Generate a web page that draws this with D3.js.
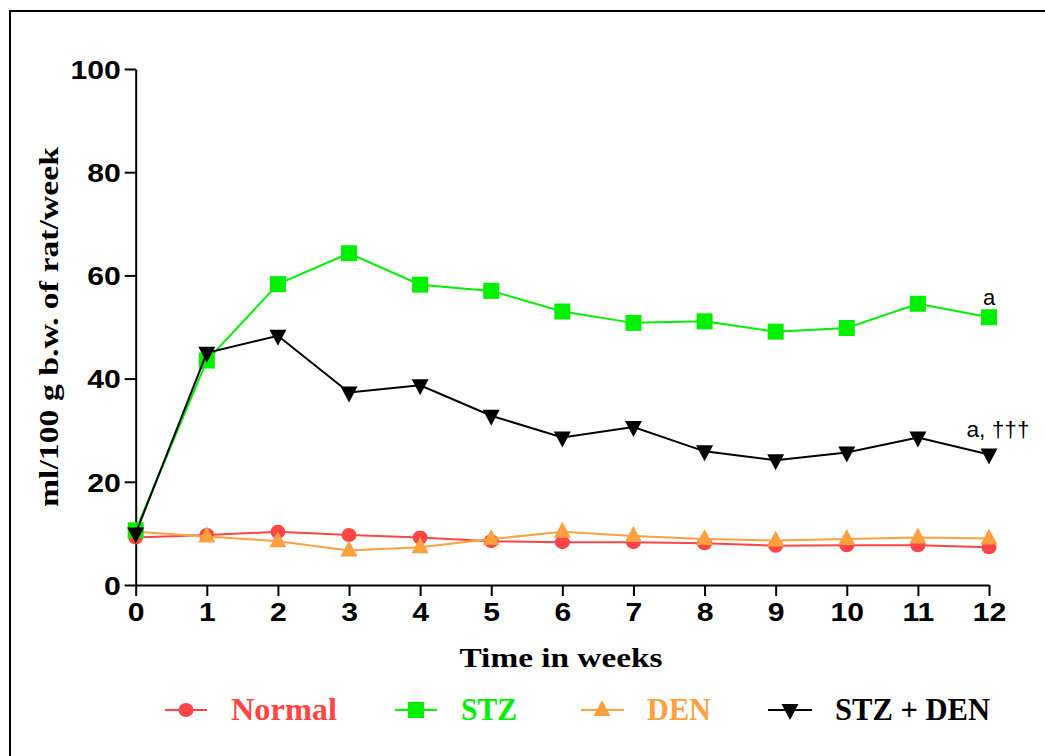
<!DOCTYPE html>
<html><head><meta charset="utf-8">
<script src="https://cdn.jsdelivr.net/npm/d3@7"></script>
<style>body{margin:0;background:#fff}svg{display:block}</style>
</head><body>
<script>
const weeks = [0,1,2,3,4,5,6,7,8,9,10,11,12];
const normal = [9.2,9.7,10.3,9.7,9.2,8.5,8.3,8.3,8.1,7.6,7.7,7.7,7.3];
const stz = [10.6,43.5,58.3,64.3,58.2,57.0,53.0,50.8,51.1,49.1,49.8,54.5,51.9];
const den = [10.3,9.4,8.5,6.7,7.3,8.9,10.3,9.5,8.9,8.6,8.9,9.2,9.0];
const stzDen = [10.0,45.0,48.3,37.3,38.7,32.8,28.6,30.6,25.9,24.2,25.7,28.6,25.3];
const yTicks = [0,20,40,60,80,100];
const seriesNames = ["Normal","STZ","DEN","STZ + DEN"];
const colors = ["#ff4545","#00f000","#ffa040","#000000"];
const shapes = ["circle","square","triUp","triDown"];

const W=1045,H=756;
const svg=d3.select("body").append("svg").attr("width",W).attr("height",H);
svg.append("rect").attr("x",10).attr("y",11).attr("width",W).attr("height",H).attr("fill","none").attr("stroke","#000").attr("stroke-width",2);

const x=d3.scaleLinear().domain([0,12]).range([135.7,989]);
const y=d3.scaleLinear().domain([0,100]).range([585,69]);

// axes
const xa=svg.append("g").attr("transform","translate(0,585)").call(d3.axisBottom(x).tickValues(weeks).tickSize(11).tickSizeOuter(0).tickFormat(d3.format("d")));
const ya=svg.append("g").attr("transform","translate(135.7,0)").call(d3.axisLeft(y).tickValues(yTicks).tickSize(11).tickSizeOuter(0));
[xa,ya].forEach(a=>{a.select(".domain").attr("stroke","#000").attr("stroke-width",2);a.selectAll(".tick line").attr("stroke","#000").attr("stroke-width",2);
 a.selectAll("text").attr("font-family","Liberation Sans, Arial, sans-serif").attr("font-weight","bold").attr("font-size",26).attr("fill","#000").attr("transform","scale(1.16,1)");});
xa.selectAll("text").attr("y",18).attr("dy","0.71em");
ya.selectAll("text").attr("x",-15/1.16).attr("dy","0.36em");

// titles
svg.append("text").attr("x",561).attr("y",667).attr("text-anchor","middle").attr("font-family","Liberation Serif, Times New Roman, serif").attr("font-weight","bold").attr("font-size",27).attr("textLength",203).attr("lengthAdjust","spacingAndGlyphs").text("Time in weeks");
svg.append("text").attr("transform","translate(58,327) rotate(-90)").attr("text-anchor","middle").attr("font-family","Liberation Serif, Times New Roman, serif").attr("font-weight","bold").attr("font-size",27).attr("textLength",360).attr("lengthAdjust","spacingAndGlyphs").text("ml/100 g b.w. of rat/week");

function marker(g,shape,cx,cy,color){
  if(shape==="circle") g.append("ellipse").attr("cx",cx).attr("cy",cy).attr("rx",7.5).attr("ry",7).attr("fill",color);
  else if(shape==="square") g.append("rect").attr("x",cx-8).attr("y",cy-8).attr("width",16).attr("height",16).attr("fill",color);
  else if(shape==="triUp") g.append("path").attr("d",`M${cx},${cy-10}L${cx+8.5},${cy+6}L${cx-8.5},${cy+6}Z`).attr("fill",color);
  else g.append("path").attr("d",`M${cx},${cy+10}L${cx+8.5},${cy-6}L${cx-8.5},${cy-6}Z`).attr("fill",color);
}

const data=[normal,stz,den,stzDen];
const order=[0,2,1,3];
const line=d3.line().x((d,i)=>x(weeks[i])).y(d=>y(d));
order.forEach(k=>{
  const g=svg.append("g");
  g.append("path").datum(data[k]).attr("d",line).attr("fill","none").attr("stroke",colors[k]).attr("stroke-width",2);
  data[k].forEach((v,i)=>marker(g,shapes[k],x(weeks[i]),y(v),colors[k]));
});

// annotations
svg.append("text").attr("x",x(12)).attr("y",y(stz[12])-12).attr("text-anchor","middle").attr("font-family","Liberation Sans, Arial, sans-serif").attr("font-size",22).text("a");
svg.append("text").attr("x",998).attr("y",y(stzDen[12])-17).attr("text-anchor","middle").attr("font-family","Liberation Sans, Arial, sans-serif").attr("font-size",22).attr("textLength",63).attr("lengthAdjust","spacingAndGlyphs").text("a, †††");

// legend
const leg=[{x1:165,x2:207,m:186,tx:231,tw:106},{x1:395,x2:437,m:416,tx:461,tw:56},{x1:581,x2:624,m:602,tx:647,tw:64},{x1:768,x2:812,m:790,tx:835,tw:155}];
leg.forEach((l,k)=>{
  const g=svg.append("g");
  g.append("line").attr("x1",l.x1).attr("x2",l.x2).attr("y1",710).attr("y2",710).attr("stroke",colors[k]).attr("stroke-width",2);
  marker(g,shapes[k],l.m,710,colors[k]);
  g.append("text").attr("x",l.tx).attr("y",720).attr("fill",colors[k]).attr("font-family","Liberation Serif, Times New Roman, serif").attr("font-weight","bold").attr("font-size",31).attr("textLength",l.tw).attr("lengthAdjust","spacingAndGlyphs").text(seriesNames[k]);
});
</script>
</body></html>
